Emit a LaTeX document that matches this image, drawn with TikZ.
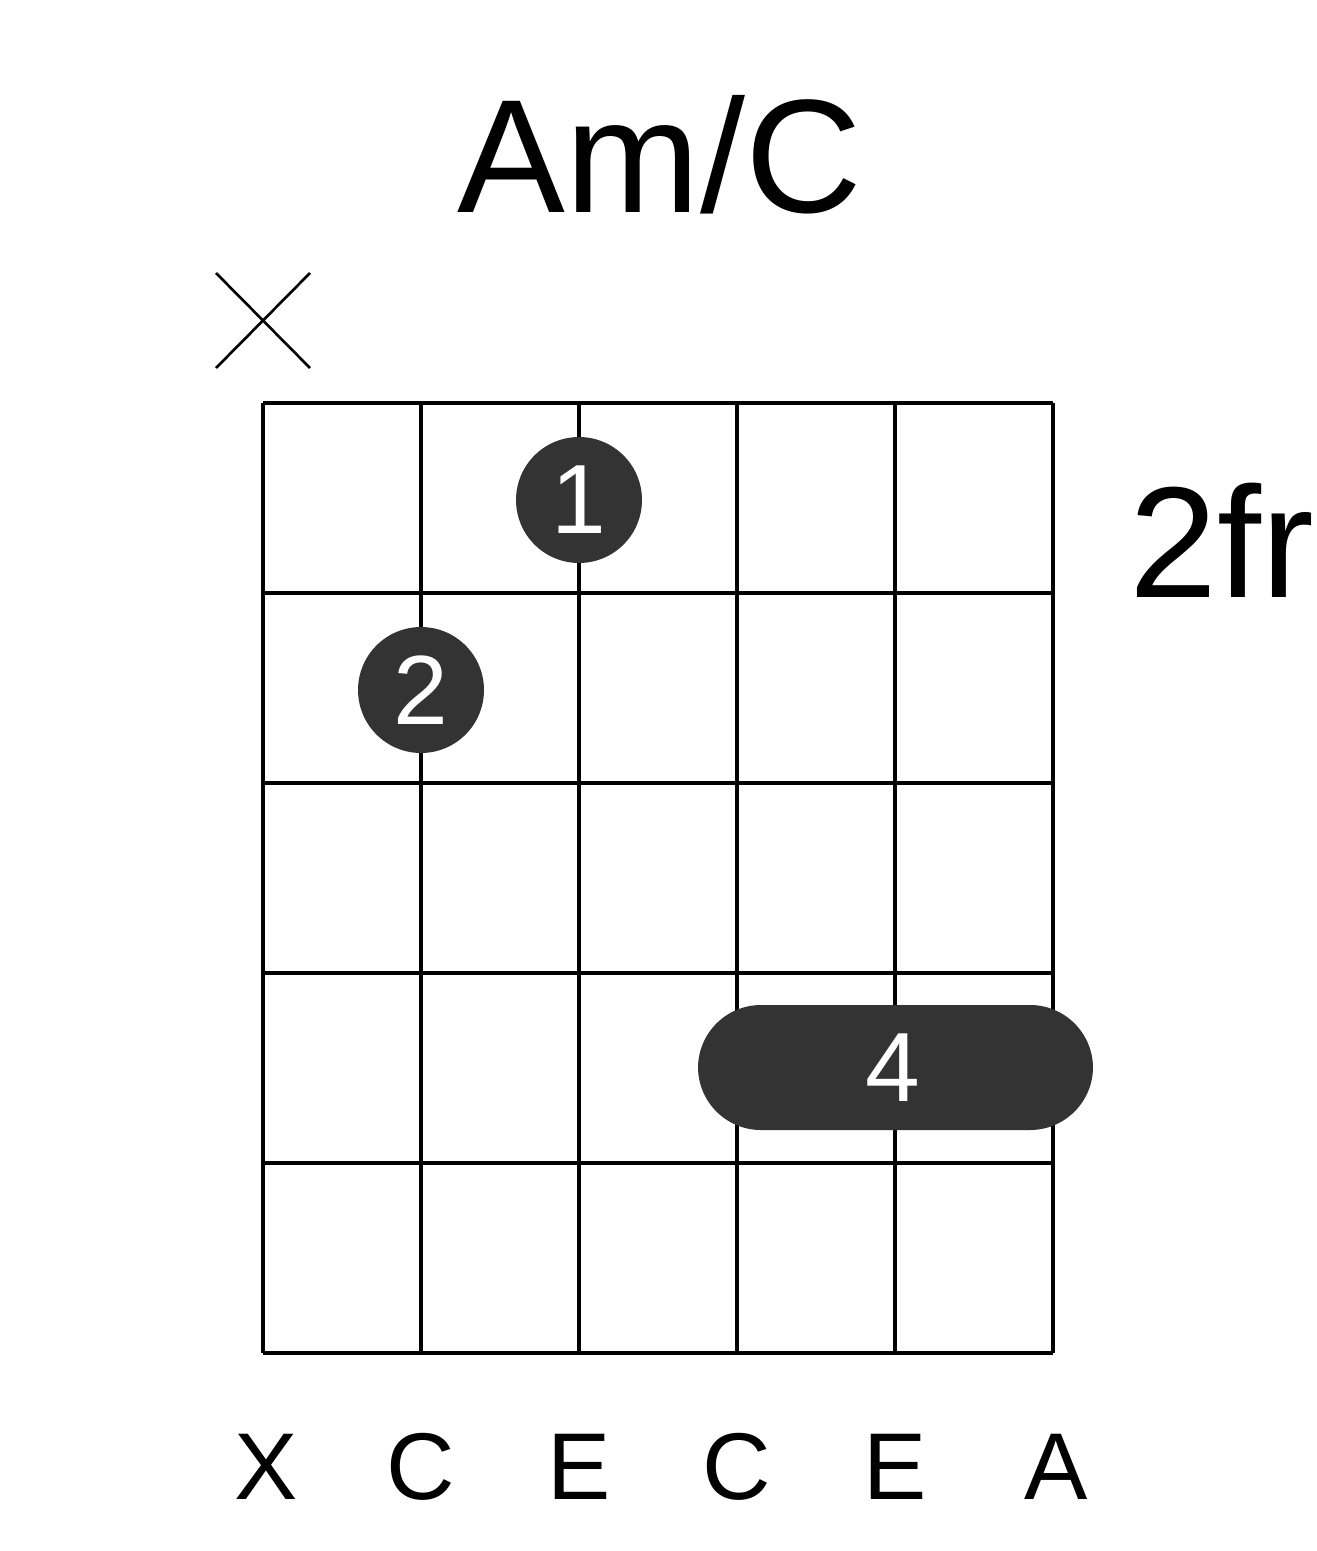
\documentclass[tikz,border=0pt]{standalone}
\usepackage{fontspec}
\setmainfont{Liberation Sans}
\begin{document}
\begin{tikzpicture}[x=0.02cm, y=-0.02cm]
	\tikzstyle{finger}=[circle, fill=black!80, minimum size=2.52cm, inner sep=0pt, text=white, font=\fontsize{56}{56}\selectfont]
	\tikzstyle{note}=[font=\fontsize{54}{54}\selectfont]
	\useasboundingbox (0,0) rectangle (1317,1551);
	\node[font=\fontsize{92}{92}\selectfont](title) at (660,155) {Am/C};
	\node[font=\fontsize{90}{90}\selectfont](fret) at (1222,540) {2fr};
	
	% strings and frets
	\foreach \s in {0,...,5}
	\draw[line width=4pt*0.5] (263+\s*158,403) -- (263+\s*158,1353);
	\foreach \f in {0,...,5}
	\draw[line width=4pt*0.5] (263,403+\f*190) -- (1053,403+\f*190);
	
	% muted string
	\coordinate (x-a) at (216,273);
	\coordinate (x-b) at (310,368);
	\coordinate (x-c) at (216,368);
	\coordinate (x-d) at (310,273);
	\draw[line width=1.5pt] (x-a) -- (x-b) (x-c) -- (x-d);
	
	% fingers
	\node[finger](f-1) at (579,500) {1};
	\node[finger](f-2) at (421,690) {2};
	\fill[black!80, rounded corners=1.26cm] (698,1005) rectangle (1093,1130);
	\node[text=white, font=\fontsize{56}{56}\selectfont](f-4) at (893,1068) {4};
	
	% notes
	\foreach \n/\t/\x in {1/X/266,2/C/421,3/E/579,4/C/737,5/E/895,6/A/1056}
	\node[note](n-\n) at (\x,1467) {\t};
\end{tikzpicture}
\end{document}
